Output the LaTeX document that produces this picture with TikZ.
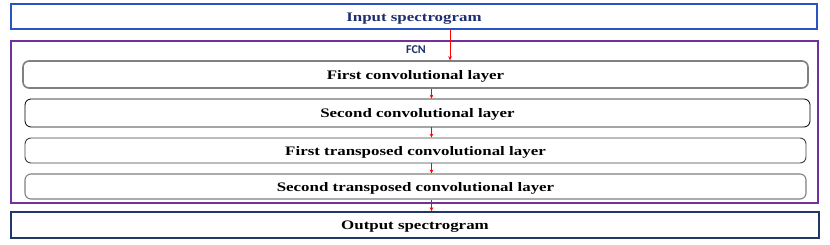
\documentclass[tikz,border=0pt]{standalone}
\usepackage{fontspec}
\setmainfont{Liberation Serif}
\newfontfamily\lblfont{Liberation Serif}[FakeStretch=1.3]
\newfontfamily\fcnfont{Carlito}
\usetikzlibrary{arrows.meta}
\definecolor{inblue}{RGB}{40,85,195}
\definecolor{intext}{RGB}{31,46,110}
\definecolor{fcnpurple}{RGB}{112,48,160}
\definecolor{outnavy}{RGB}{31,56,100}
\definecolor{layergray}{RGB}{128,128,128}
\tikzset{
  lbl/.style={font=\lblfont\bfseries\fontsize{13}{15}\selectfont, inner sep=0pt, text height=9.5pt, text depth=0pt},
  bigbox/.style={draw, rectangle, inner sep=0pt, lbl},
  layerbox/.style={draw, rectangle, rounded corners=6pt, inner sep=0pt, lbl, text=black},
  arr/.style={draw=red, line width=0.5pt, -{Stealth[length=4pt,width=3.5pt]}}
}
\begin{document}
\begin{tikzpicture}[x=1pt,y=-1pt]
\useasboundingbox (0,0) rectangle (830,245);
% input
\node[bigbox, draw=inblue, line width=1.2pt, text=intext, minimum width=806pt, minimum height=25pt] (in) at (414,16.5) {Input spectrogram};
% FCN frame
\node[draw=fcnpurple, line width=1.6pt, rectangle, inner sep=0pt, minimum width=807pt, minimum height=162pt] (fcn) at (414.5,122) {};
\node[font=\fcnfont\bfseries\fontsize{12}{14}\selectfont, text=intext, inner sep=0pt] (fcnlbl) at (416,49.5) {FCN};
% layers
\node[layerbox, draw=layergray, line width=1.6pt, minimum width=785pt, minimum height=27pt] (l1) at (415.5,74.5) {First convolutional layer};
\node[layerbox, draw=black, line width=0.8pt, minimum width=785pt, minimum height=28pt] (l2) at (417.5,113) {Second convolutional layer};
\node[layerbox, draw=black!75, line width=0.9pt, minimum width=781pt, minimum height=25pt] (l3) at (415.5,150.5) {First transposed convolutional layer};
\node[layerbox, draw=layergray, line width=1.1pt, minimum width=781pt, minimum height=25pt] (l4) at (415.5,186.5) {Second transposed convolutional layer};
% output
\node[bigbox, draw=outnavy, line width=1.6pt, text=black, minimum width=808pt, minimum height=26pt] (out) at (415,225) {Output spectrogram};
% arrows
\coordinate (xa) at (450,0);
\coordinate (xb) at (431.5,0);
\draw[arr] (in.south -| xa) -- (l1.north -| xa);
\draw[arr] (l1.south -| xb) -- (l2.north -| xb);
\draw[arr] (l2.south -| xb) -- (l3.north -| xb);
\draw[arr] (l3.south -| xb) -- (l4.north -| xb);
\draw[arr] (l4.south -| xb) -- (out.north -| xb);
\end{tikzpicture}
\end{document}
